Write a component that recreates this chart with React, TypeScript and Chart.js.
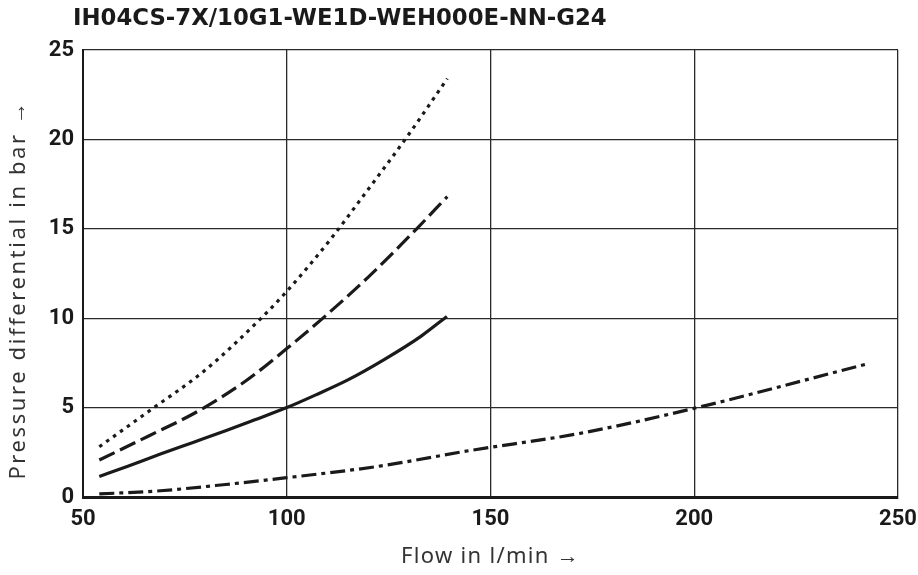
import React, { useEffect, useRef } from "react";
import { Chart, registerables } from "chart.js";

Chart.register(...registerables);

const chartTitle = "IH04CS-7X/10G1-WE1D-WEH000E-NN-G24";
const xAxisTitle = "Flow in l/min →";
const yAxisTitle = "Pressure differential in bar →";

const xTicks = [50, 100, 150, 200, 250];
const yTicks = [0, 5, 10, 15, 20, 25];

// Solid curve
const solidX = [54, 61, 69, 77, 85, 92, 100, 107, 115, 124, 133, 139.3];
const solidY = [1.15, 1.72, 2.4, 3.05, 3.7, 4.3, 5.0, 5.7, 6.55, 7.7, 9.0, 10.1];

// Dashed curve
const dashedX = [54, 66, 78, 90, 100, 108.6, 120, 132, 139.4];
const dashedY = [2.07, 3.4, 4.77, 6.5, 8.3, 9.95, 12.3, 15.03, 16.8];

// Dotted curve
const dottedX = [54, 66.6, 80, 93.5, 100, 110.7, 118, 130, 139.4];
const dottedY = [2.81, 4.87, 7.1, 9.95, 11.5, 14.4, 16.6, 20.3, 23.4];

// Dash-dot curve
const dashDotX = [54, 69, 85, 100, 122, 145, 172, 200, 243];
const dashDotY = [0.17, 0.35, 0.7, 1.08, 1.7, 2.6, 3.56, 4.96, 7.48];

const toPoints = (xs: number[], ys: number[]) => xs.map((x, i) => ({ x, y: ys[i] }));

const INK = "#1a1a1a";
const AXIS_TITLE_FONT = "22px 'Noto Sans', 'Open Sans', sans-serif";

export default function App() {
  const canvasRef = useRef<HTMLCanvasElement | null>(null);

  useEffect(() => {
    const canvas = canvasRef.current;
    if (!canvas) return;

    const textPlugin = {
      id: "texts",
      afterDraw(chart: any) {
        const { ctx, chartArea, height } = chart;
        ctx.save();
        // Chart title
        ctx.fillStyle = INK;
        ctx.font = "bold 22.8px 'DejaVu Sans', sans-serif";
        ctx.textBaseline = "middle";
        ctx.textAlign = "left";
        ctx.fillText(chartTitle, chartArea.left - 10, 19);

        // Axis titles
        ctx.fillStyle = "#333";
        ctx.font = AXIS_TITLE_FONT;
        ctx.textAlign = "center";
        ctx.textBaseline = "middle";
        (ctx as any).letterSpacing = "1.3px";
        ctx.fillText(xAxisTitle, (chartArea.left + chartArea.right) / 2, height - 18);

        (ctx as any).letterSpacing = "2.6px";
        ctx.translate(19, (chartArea.top + chartArea.bottom) / 2 + 16);
        ctx.rotate(-Math.PI / 2);
        ctx.fillText(yAxisTitle, 0, 0);
        (ctx as any).letterSpacing = "0px";
        ctx.restore();
      },
    };

    const common = {
      borderColor: INK,
      borderWidth: 3.2,
      pointRadius: 0,
      fill: false,
      showLine: true,
      cubicInterpolationMode: "monotone" as const,
    };

    const tickFont = { family: "Roboto, 'Liberation Sans', sans-serif", size: 22, weight: "bold" as const };

    const chart = new Chart(canvas, {
      type: "scatter",
      data: {
        datasets: [
          { ...common, label: "solid", data: toPoints(solidX, solidY) },
          { ...common, label: "dashed", data: toPoints(dashedX, dashedY), borderDash: [17, 6] },
          { ...common, label: "dotted", data: toPoints(dottedX, dottedY), borderDash: [3.5, 5] },
          { ...common, label: "dashdot", data: toPoints(dashDotX, dashDotY), borderDash: [15, 5, 4, 5] },
        ],
      },
      plugins: [textPlugin],
      options: {
        animation: false,
        responsive: false,
        maintainAspectRatio: false,
        layout: { padding: { top: 50, right: 0, left: 0, bottom: 0 } },
        plugins: {
          legend: { display: false },
          tooltip: { enabled: false },
          title: { display: false },
        },
        scales: {
          x: {
            type: "linear",
            min: 50,
            max: 250,
            afterBuildTicks: (scale: any) => {
              scale.ticks = xTicks.map((v) => ({ value: v }));
            },
            afterFit: (scale: any) => {
              scale.height = 78;
              scale.paddingRight = 20;
              scale.paddingLeft = 0;
            },
            grid: { color: "#2a2a2a", lineWidth: 1.3, drawTicks: false },
            border: { color: INK, width: 3 },
            ticks: { padding: 9, color: INK, font: tickFont },
          },
          y: {
            type: "linear",
            min: 0,
            max: 25,
            afterBuildTicks: (scale: any) => {
              scale.ticks = yTicks.map((v) => ({ value: v }));
            },
            afterFit: (scale: any) => {
              scale.width = 83;
              scale.paddingTop = 0;
              scale.paddingBottom = 0;
            },
            grid: { color: "#2a2a2a", lineWidth: 1.3, drawTicks: false },
            border: { color: INK, width: 2 },
            ticks: { padding: 9, color: INK, font: tickFont },
          },
        },
      },
    });

    return () => chart.destroy();
  }, []);

  return (
    <div style={{ position: "absolute", left: 0, top: 0, width: 918, height: 575, background: "#fff" }}>
      <canvas ref={canvasRef} width={918} height={575} style={{ width: 918, height: 575 }} />
    </div>
  );
}
